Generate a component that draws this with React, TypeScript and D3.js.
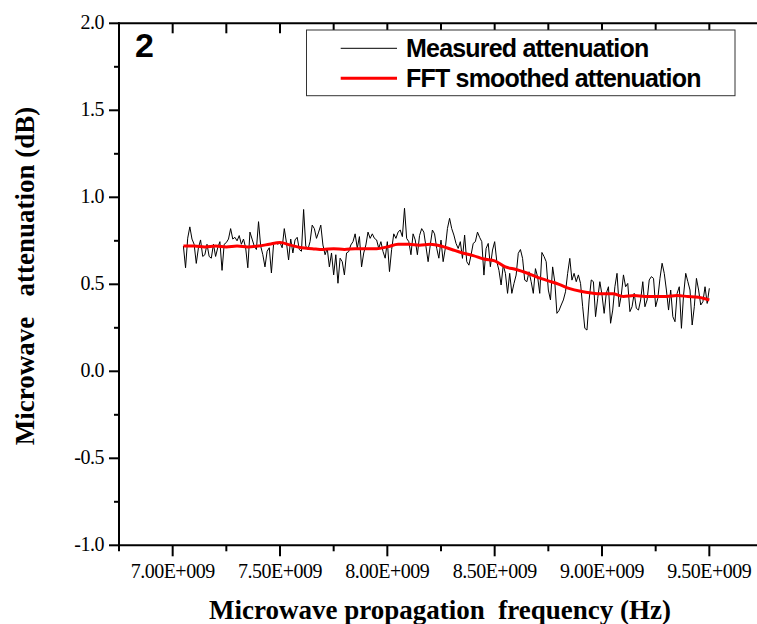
import React from "react";
import * as d3 from "d3";

// Frequency sweep of the measurement (Hz)
const freqStart = 7.05e9;
const freqStep = 1.0e7;

// Measured attenuation (dB)
const measured: number[] = [
  // 7.05 - 7.63 GHz
  0.72, 0.595, 0.765, 0.83, 0.76, 0.73, 0.62, 0.71, 0.755, 0.66,
  0.67, 0.73, 0.66, 0.65, 0.73, 0.66, 0.71, 0.745, 0.58, 0.73,
  0.74, 0.76, 0.82, 0.76, 0.77, 0.75, 0.78, 0.73, 0.76, 0.71,
  0.595, 0.8, 0.76, 0.72, 0.7, 0.86, 0.72, 0.67, 0.6, 0.69,
  0.71, 0.565, 0.73, 0.74, 0.73, 0.74, 0.71, 0.82, 0.74, 0.64,
  0.76, 0.68, 0.755, 0.77, 0.7, 0.69, 0.93, 0.72, 0.7,
  // 7.64 - 8.24 GHz
  0.745, 0.84, 0.82, 0.764, 0.8, 0.84, 0.726, 0.67, 0.707, 0.6,
  0.68, 0.554, 0.67, 0.506, 0.65, 0.63, 0.554, 0.68, 0.688, 0.726,
  0.745, 0.79, 0.707, 0.774, 0.6, 0.68, 0.726, 0.8, 0.764, 0.79,
  0.764, 0.755, 0.707, 0.745, 0.688, 0.65, 0.745, 0.573, 0.7, 0.79,
  0.764, 0.8, 0.812, 0.774, 0.937, 0.764, 0.745, 0.67, 0.79, 0.755,
  0.67, 0.78, 0.82, 0.8, 0.716, 0.63, 0.726, 0.812, 0.79, 0.707, 0.65,
  // 8.25 - 8.87 GHz
  0.754, 0.63, 0.706, 0.821, 0.879, 0.82, 0.783, 0.735, 0.706, 0.745,
  0.649, 0.783, 0.63, 0.61, 0.668, 0.735, 0.745, 0.8, 0.77, 0.745,
  0.553, 0.706, 0.735, 0.601, 0.697, 0.745, 0.63, 0.58, 0.496, 0.61,
  0.563, 0.448, 0.563, 0.448, 0.505, 0.553, 0.678, 0.7, 0.649, 0.524,
  0.515, 0.572, 0.515, 0.448, 0.59, 0.543, 0.448, 0.683, 0.66, 0.63,
  0.467, 0.41, 0.6, 0.515, 0.333, 0.35, 0.381, 0.41, 0.457, 0.563,
  0.649, 0.524, 0.563,
  // 8.88 - 9.50 GHz
  0.515, 0.554, 0.505, 0.371, 0.247, 0.237, 0.41, 0.525, 0.515, 0.314,
  0.42, 0.515, 0.439, 0.333, 0.448, 0.486, 0.276, 0.352, 0.486, 0.563,
  0.371, 0.439, 0.554, 0.486, 0.505, 0.343, 0.371, 0.448, 0.362, 0.352,
  0.41, 0.515, 0.371, 0.41, 0.525, 0.544, 0.534, 0.371, 0.42, 0.534,
  0.621, 0.563, 0.467, 0.352, 0.467, 0.314, 0.285, 0.448, 0.486, 0.247,
  0.439, 0.563, 0.515, 0.467, 0.266, 0.371, 0.534, 0.467, 0.381, 0.4,
  0.486, 0.39, 0.477,
];

// FFT smoothed attenuation
const smoothFreq: number[] = [
  7.05e9, 7.1e9, 7.15e9, 7.2e9, 7.25e9, 7.3e9, 7.35e9, 7.4e9, 7.45e9, 7.5e9,
  7.55e9, 7.6e9, 7.65e9, 7.7e9, 7.75e9, 7.8e9, 7.85e9, 7.9e9, 7.95e9, 8.0e9,
  8.05e9, 8.1e9, 8.15e9, 8.2e9, 8.25e9, 8.3e9, 8.35e9, 8.4e9, 8.45e9, 8.5e9,
  8.55e9, 8.6e9, 8.65e9, 8.7e9, 8.75e9, 8.8e9, 8.85e9, 8.9e9, 8.95e9, 9.0e9,
  9.05e9, 9.1e9, 9.15e9, 9.2e9, 9.25e9, 9.3e9, 9.35e9, 9.4e9, 9.45e9, 9.5e9,
];
const smoothVal: number[] = [
  0.72, 0.72, 0.715, 0.72, 0.715, 0.72, 0.715, 0.72, 0.73, 0.74,
  0.725, 0.71, 0.705, 0.7, 0.705, 0.7, 0.705, 0.705, 0.705, 0.715,
  0.73, 0.73, 0.725, 0.73, 0.72, 0.7, 0.68, 0.665, 0.645, 0.635,
  0.6, 0.585, 0.565, 0.54, 0.52, 0.5, 0.475, 0.46, 0.45, 0.445,
  0.445, 0.43, 0.435, 0.43, 0.43, 0.43, 0.435, 0.43, 0.425, 0.41,
];

const xTicks: number[] = [7.0e9, 7.5e9, 8.0e9, 8.5e9, 9.0e9, 9.5e9];
const xTickLabels: string[] = ["7.00E+009", "7.50E+009", "8.00E+009", "8.50E+009", "9.00E+009", "9.50E+009"];
const yTicks: number[] = [-1.0, -0.5, 0.0, 0.5, 1.0, 1.5, 2.0];
const yTickLabels: string[] = ["-1.0", "-0.5", "0.0", "0.5", "1.0", "1.5", "2.0"];
const legendLabels: string[] = ["Measured attenuation", "FFT smoothed attenuation"];
const panelLabel = "2";
const xTitle = "Microwave propagation  frequency (Hz)";
const yTitle = "Microwave   attenuation (dB)";

const W = 757;
const H = 624;
const left = 119;
const top = 23.3;
const bottom = 545.3;

export default function App() {
  const x = d3.scaleLinear().domain([6.75e9, 9.75e9]).range([left, 763]);
  const y = d3.scaleLinear().domain([-1, 2]).range([bottom, top]);

  const measPts: [number, number][] = measured.map((v, i) => [freqStart + i * freqStep, v]);
  const smoothPts: [number, number][] = smoothFreq.map((f, i) => [f, smoothVal[i]]);
  const line = d3
    .line<[number, number]>()
    .x((d) => x(d[0]))
    .y((d) => y(d[1]));
  const smoothLine = d3
    .line<[number, number]>()
    .x((d) => x(d[0]))
    .y((d) => y(d[1]))
    .curve(d3.curveMonotoneX);

  const xMinor = d3.range(6.75e9, 9.76e9, 0.25e9);
  const yMinor = d3.range(-1, 2.001, 0.25);
  const serif = "'Liberation Serif', 'Times New Roman', serif";
  const sans = "'Liberation Sans', Arial, sans-serif";

  return (
    <svg
      width={W}
      height={H}
      style={{ position: "absolute", left: 0, top: 0, background: "#fff" }}
    >
      <rect x={0} y={0} width={W} height={H} fill="#fff" />
      {/* data */}
      <path d={line(measPts) || ""} fill="none" stroke="#000" strokeWidth={1} />
      <path d={smoothLine(smoothPts) || ""} fill="none" stroke="#ff0000" strokeWidth={3} />

      {/* axes lines */}
      <g stroke="#000" strokeWidth={2} fill="none">
        <line x1={left} x2={left} y1={top - 1} y2={bottom + 1} />
        <line x1={left - 1} x2={W} y1={bottom} y2={bottom} />
        <line x1={left - 1} x2={W} y1={top} y2={top} />
        {/* bottom ticks */}
        {xMinor.map((t, i) => {
          const isMajor = Math.abs(((t - 7.0e9) / 0.5e9) - Math.round((t - 7.0e9) / 0.5e9)) < 1e-6;
          return (
            <line key={"bx" + i} x1={x(t)} x2={x(t)} y1={bottom} y2={bottom + (isMajor ? 11 : 6)} />
          );
        })}
        {/* top ticks (inward) */}
        {xMinor.map((t, i) => (
          <line key={"tx" + i} x1={x(t)} x2={x(t)} y1={top} y2={top + 10} />
        ))}
        {/* left ticks */}
        {yMinor.map((t, i) => {
          const isMajor = Math.abs(t * 2 - Math.round(t * 2)) < 1e-6;
          return <line key={"ly" + i} x1={left - (isMajor ? 10 : 5)} x2={left} y1={y(t)} y2={y(t)} />;
        })}
      </g>

      {/* tick labels */}
      <g fontFamily={serif} fontSize={20} fill="#000">
        {yTicks.map((t, i) => (
          <text key={"yl" + i} x={104} y={y(t) + 6} textAnchor="end" letterSpacing={-0.5}>
            {yTickLabels[i]}
          </text>
        ))}
        {xTicks.map((t, i) => (
          <text key={"xl" + i} x={x(t)} y={578} textAnchor="middle" letterSpacing={-0.5}>
            {xTickLabels[i]}
          </text>
        ))}
      </g>

      {/* axis titles */}
      <text
        x={440}
        y={619}
        textAnchor="middle"
        fontFamily={serif}
        fontWeight="bold"
        fontSize={27}
        style={{ whiteSpace: "pre" }}
      >
        {xTitle}
      </text>
      <text
        transform={`translate(34, 276) rotate(-90)`}
        textAnchor="middle"
        fontFamily={serif}
        fontWeight="bold"
        fontSize={27}
        style={{ whiteSpace: "pre" }}
      >
        {yTitle}
      </text>

      {/* panel label */}
      <text x={135} y={57} fontFamily={sans} fontWeight="bold" fontSize={34}>
        {panelLabel}
      </text>

      {/* legend */}
      <rect x={306.5} y={30} width={428.5} height={65.7} fill="#fff" stroke="#333" strokeWidth={1} />
      <line x1={340.7} x2={397} y1={48.3} y2={48.3} stroke="#000" strokeWidth={1} />
      <line x1={340.7} x2={397} y1={78.3} y2={78.3} stroke="#ff0000" strokeWidth={3} />
      <g fontFamily={sans} fontWeight="bold" fontSize={25} letterSpacing={-0.8} fill="#000">
        <text x={406} y={56.7}>{legendLabels[0]}</text>
        <text x={406} y={86.7}>{legendLabels[1]}</text>
      </g>
    </svg>
  );
}
